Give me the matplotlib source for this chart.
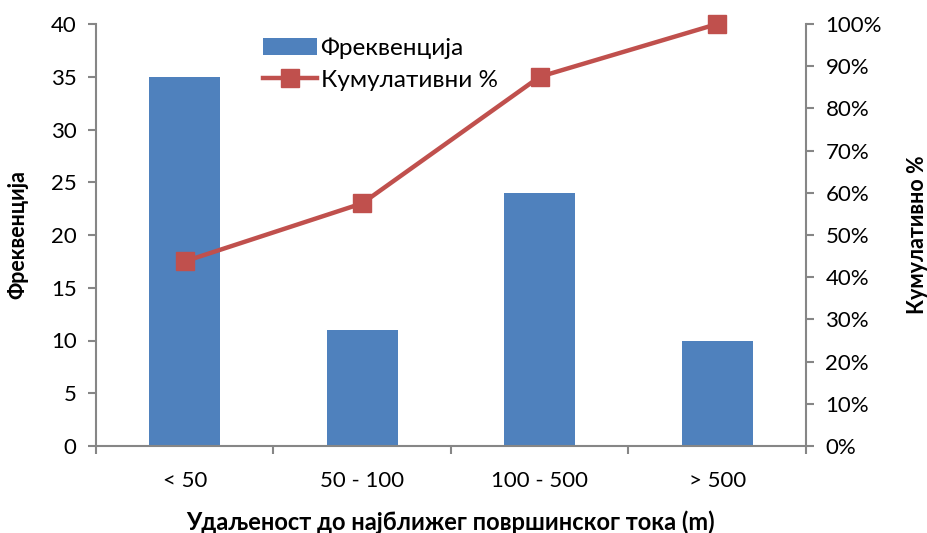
import matplotlib
matplotlib.use("Agg")
import matplotlib.pyplot as plt
from matplotlib.ticker import FuncFormatter, MultipleLocator

plt.rcParams['font.family'] = ['Lato', 'Open Sans', 'DejaVu Sans']

categories = ['< 50', '50 - 100', '100 - 500', '> 500']
frequency = [35, 11, 24, 10]
cumulative_pct = [43.75, 57.5, 87.5, 100.0]

bar_color = '#4F81BD'
line_color = '#C0504D'
spine_color = '#868686'

fig = plt.figure(figsize=(9.28, 5.33), dpi=100)
ax = fig.add_axes([96/928, 1-446/533, (806-96)/928, (446-24)/533])
x = list(range(len(categories)))
bars = ax.bar(x, frequency, width=0.4, color=bar_color, label='Фреквенција', zorder=2)
ax.set_xlim(-0.5, len(categories) - 0.5)
ax.set_ylim(0, 40)
ax.yaxis.set_major_locator(MultipleLocator(5))
ax.set_xticks(x)
ax.set_xticklabels(categories, fontsize=16)
ax.set_xticks([i - 0.5 for i in range(len(categories) + 1)], minor=True)
ax.tick_params(axis='x', which='major', length=0, pad=18)
ax.tick_params(axis='x', which='minor', length=6, color=spine_color, width=1.5)
ax.tick_params(axis='y', labelsize=16, length=6, color=spine_color, width=1.5, pad=8)
for s in ['top', 'right']:
    ax.spines[s].set_visible(False)
for s in ['left', 'bottom']:
    ax.spines[s].set_color(spine_color)
    ax.spines[s].set_linewidth(1.5)
ax.set_ylabel('Фреквенција', fontsize=15.5, fontweight='bold', labelpad=16)
ax.set_xlabel('Удаљеност до најближег површинског тока (m)', fontsize=17, fontweight='bold', labelpad=14)

ax2 = ax.twinx()
line, = ax2.plot(x, cumulative_pct, color=line_color, lw=3.2, marker='s', ms=13,
                 markerfacecolor=line_color, markeredgecolor=line_color, label='Кумулативни %',
                 zorder=3, clip_on=False)
ax2.set_ylim(0, 100)
ax2.yaxis.set_major_locator(MultipleLocator(10))
ax2.yaxis.set_major_formatter(FuncFormatter(lambda v, p: f'{int(v)}%'))
ax2.tick_params(axis='y', labelsize=16, length=6, color=spine_color, width=1.5, pad=8)
for s in ['top', 'left', 'bottom']:
    ax2.spines[s].set_visible(False)
ax2.spines['right'].set_color(spine_color)
ax2.spines['right'].set_linewidth(1.5)
ax2.set_ylabel('Кумулативно %', fontsize=15.5, fontweight='bold', labelpad=18)

leg = ax.legend([bars, line], ['Фреквенција', 'Кумулативни %'], loc='upper left',
                bbox_to_anchor=(0.205, 1.02), frameon=False, fontsize=17.5,
                handlelength=2.2, handletextpad=0.15, labelspacing=0.45)

fig.savefig('out.png', dpi=100)
